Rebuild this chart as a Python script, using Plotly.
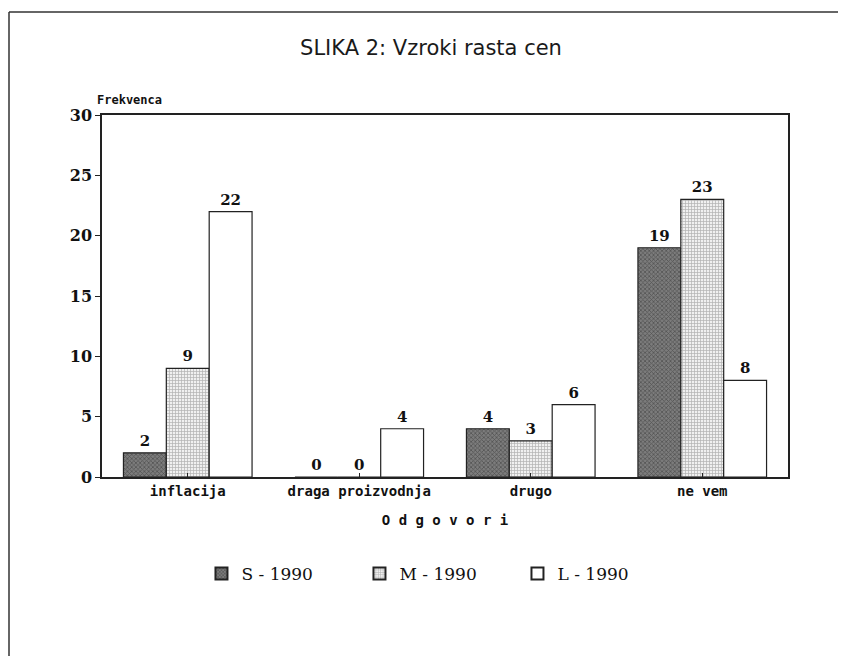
import plotly.graph_objects as go

categories = ["inflacija", "draga proizvodnja", "drugo", "ne vem"]
s_1990 = [2, 0, 4, 19]
m_1990 = [9, 0, 3, 23]
l_1990 = [22, 4, 6, 8]
series_names = ["S - 1990", "M - 1990", "L - 1990"]
y_ticks = [0, 5, 10, 15, 20, 25, 30]

FONT = "DejaVu Serif"
SANS = "DejaVu Sans"
MONO = "DejaVu Sans Mono"

L, R, T, B = 94, 66, 107, 187
PW = 846 - L - R
PH = 656 - T - B

fig = go.Figure()
styles = [
    dict(color="#6e6e6e", pattern=dict(shape="x", fgcolor="#2a2a2a", bgcolor="#7c7c7c", size=3, solidity=0.45)),
    dict(color="#e8e8e8", pattern=dict(shape="+", fgcolor="#707070", bgcolor="#f0f0f0", size=3, solidity=0.4)),
    dict(color="white"),
]
for name, vals, st in zip(series_names, [s_1990, m_1990, l_1990], styles):
    fig.add_trace(go.Bar(
        x=categories, y=vals, name=name,
        marker=dict(line=dict(color="#222", width=1.2), **st),
        text=[str(v) for v in vals], textposition="outside",
        textfont=dict(family=FONT, size=15, color="#111", weight="bold"),
        cliponaxis=False,
    ))

fig.update_layout(
    width=846, height=656,
    margin=dict(l=L, r=R, t=T, b=B),
    paper_bgcolor="white", plot_bgcolor="white",
    barmode="group", bargap=0.25, bargroupgap=0,
    title=dict(text="SLIKA 2: Vzroki rasta cen", x=0.5, xanchor="center", y=1 - 40 / 656, yanchor="middle",
               font=dict(family=SANS, size=21, color="#1a1a1a")),
    showlegend=True,
    legend=dict(orientation="h", x=0.145, xanchor="left", y=-(574 - 8 - T - PH) / PH, yanchor="middle",
                font=dict(family=FONT, size=17, color="#111"), entrywidth=113, itemsizing="constant",
                traceorder="normal"),
    xaxis=dict(showline=True, linecolor="#222", linewidth=1.5, mirror=True, ticks="inside", ticklen=4,
               tickcolor="#222", tickfont=dict(family=MONO, size=14, color="#111", weight="bold"),
               title=dict(text="O d g o v o r i", font=dict(family=MONO, size=14, color="#111", weight="bold"),
                          standoff=18)),
    yaxis=dict(range=[0, 30], tickvals=y_ticks, showline=True, linecolor="#222", linewidth=1.5, mirror=True,
               ticks="outside", ticklen=5, tickcolor="#222", showgrid=False, zeroline=False,
               tickfont=dict(family=FONT, size=16, color="#111", weight="bold")),
    annotations=[dict(text="<b>Frekvenca</b>", xref="paper", yref="paper", x=-7 / PW, y=1.0, yshift=15,
                      xanchor="left", yanchor="middle", showarrow=False,
                      font=dict(family=MONO, size=12, color="#111"))],
    shapes=[
        dict(type="line", xref="paper", yref="paper", x0=-(L - 1) / PW, x1=1 + R / PW,
             y0=1 + (T - 4) / PH, y1=1 + (T - 4) / PH, line=dict(color="#333", width=1.5)),
        dict(type="line", xref="paper", yref="paper", x0=-(L - 1) / PW, x1=-(L - 1) / PW,
             y0=-B / PH, y1=1 + (T - 4) / PH, line=dict(color="#333", width=1.5)),
    ],
)

fig.write_html("out.html")
